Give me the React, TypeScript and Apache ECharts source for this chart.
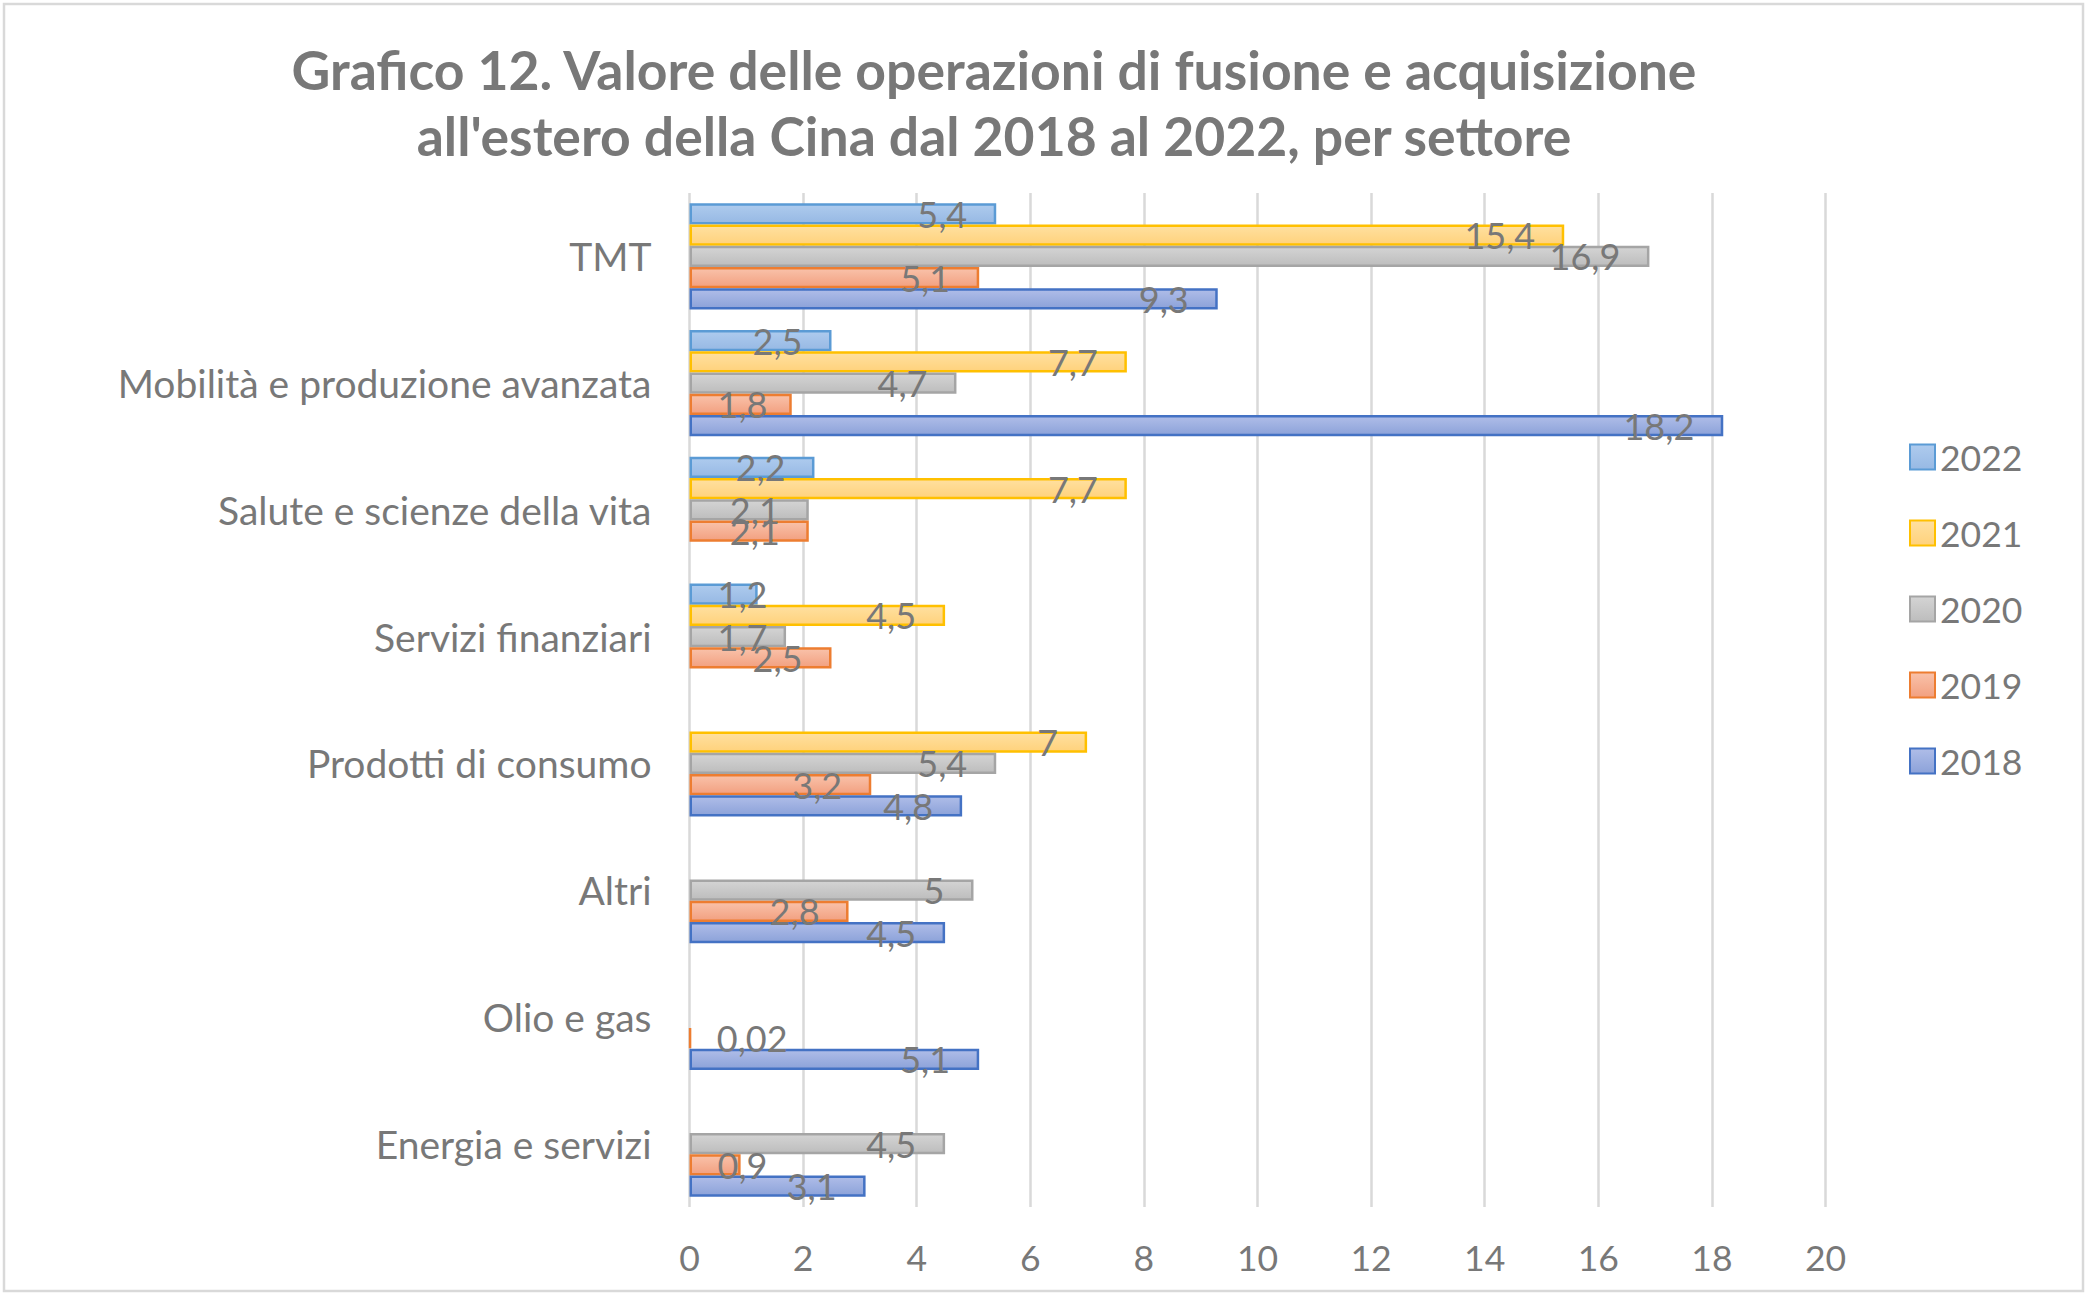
import React, { useEffect, useRef } from "react";
import * as echarts from "echarts";

const titleText =
  "Grafico 12. Valore delle operazioni di fusione e acquisizione\nall'estero della Cina dal 2018 al 2022, per settore";

// categories from bottom to top
const categories = [
  "Energia e servizi",
  "Olio e gas",
  "Altri",
  "Prodotti di consumo",
  "Servizi finanziari",
  "Salute e scienze della vita",
  "Mobilità e produzione avanzata",
  "TMT",
];

const v2018 = [3.1, 5.1, 4.5, 4.8, null, null, 18.2, 9.3];
const v2019 = [0.9, 0.02, 2.8, 3.2, 2.5, 2.1, 1.8, 5.1];
const v2020 = [4.5, null, 5, 5.4, 1.7, 2.1, 4.7, 16.9];
const v2021 = [null, null, null, 7, 4.5, 7.7, 7.7, 15.4];
const v2022 = [null, null, null, null, 1.2, 2.2, 2.5, 5.4];

const seriesNames = ["2022", "2021", "2020", "2019", "2018"];
const seriesValues = [v2022, v2021, v2020, v2019, v2018];

const xTicks = { min: 0, max: 20, interval: 2 };

const styles: Record<string, { top: string; bottom: string; border: string }> = {
  "2022": { top: "#AECBEE", bottom: "#97B9E4", border: "#5B9BD5" },
  "2021": { top: "#FFE0A0", bottom: "#FFD27C", border: "#FFC000" },
  "2020": { top: "#D4D4D4", bottom: "#BDBDBD", border: "#A5A5A5" },
  "2019": { top: "#F9C2AA", bottom: "#F2A080", border: "#ED7D31" },
  "2018": { top: "#AFBDE8", bottom: "#8CA2D9", border: "#4472C4" },
};

const FONT = "Lato";
const TEXT = "#787878";

export default function App() {
  const ref = useRef<HTMLDivElement>(null);
  useEffect(() => {
    if (!ref.current) return;
    const chart = echarts.init(ref.current, null, { renderer: "svg" });
    const fmt = (v: number) => String(v).replace(".", ",");
    const series = seriesNames.map((name, i) => {
      const s = styles[name];
      return {
        name,
        type: "bar",
        barGap: "0%",
        barCategoryGap: "16%",
        itemStyle: {
          color: new echarts.graphic.LinearGradient(0, 0, 0, 1, [
            { offset: 0, color: s.top },
            { offset: 1, color: s.bottom },
          ]),
          borderColor: s.border,
          borderWidth: 2.5,
        },
        label: {
          show: true,
          fontFamily: FONT,
          fontSize: 36,
          color: TEXT,
          formatter: (p: any) => fmt(p.value),
        },
        data: seriesValues[i].map((v) =>
          v == null
            ? "-"
            : {
                value: v,
                label: {
                  position: v < 2 ? "insideLeft" : "insideRight",
                  distance: v < 2 ? 28 : 29,
                },
              }
        ),
      };
    });
    chart.setOption({
      animation: false,
      backgroundColor: "#ffffff",
      textStyle: { fontFamily: FONT },
      graphic: [
        {
          type: "rect",
          shape: { x: 4, y: 4, width: 2079, height: 1287 },
          style: { fill: "none", stroke: "#D9D9D9", lineWidth: 2.5 },
          silent: true,
        },
        {
          type: "text",
          x: 994,
          y: 102,
          style: {
            text: titleText,
            fontFamily: FONT,
            fontWeight: "bold",
            fontSize: 53.5,
            lineHeight: 66,
            fill: TEXT,
            textAlign: "center",
            textVerticalAlign: "middle",
          },
        },
      ],
      legend: {
        orient: "vertical",
        left: 1904,
        top: 434,
        itemWidth: 25,
        itemHeight: 25,
        itemGap: 40,
        icon: "rect",
        data: seriesNames,
        textStyle: { fontFamily: FONT, fontSize: 35.5, color: TEXT },
      },
      grid: { left: 689.5, right: 264.5, top: 193, bottom: 94, containLabel: false },
      xAxis: {
        type: "value",
        min: xTicks.min,
        max: xTicks.max,
        interval: xTicks.interval,
        axisLine: { show: false },
        axisTick: { show: false },
        splitLine: { show: true, lineStyle: { color: "#D9D9D9", width: 2.5 } },
        axisLabel: { fontFamily: FONT, fontSize: 35.5, color: TEXT, margin: 32 },
      },
      yAxis: {
        type: "category",
        data: categories,
        axisLine: { show: false },
        axisTick: { show: false },
        axisLabel: {
          fontFamily: FONT,
          fontSize: 39,
          color: TEXT,
          margin: 38,
          padding: [0, 0, 9, 0],
        },
      },
      series,
    });
    return () => chart.dispose();
  }, []);
  return (
    <div
      ref={ref}
      style={{ position: "fixed", left: 0, top: 0, width: 2090, height: 1301, background: "#fff" }}
    />
  );
}
